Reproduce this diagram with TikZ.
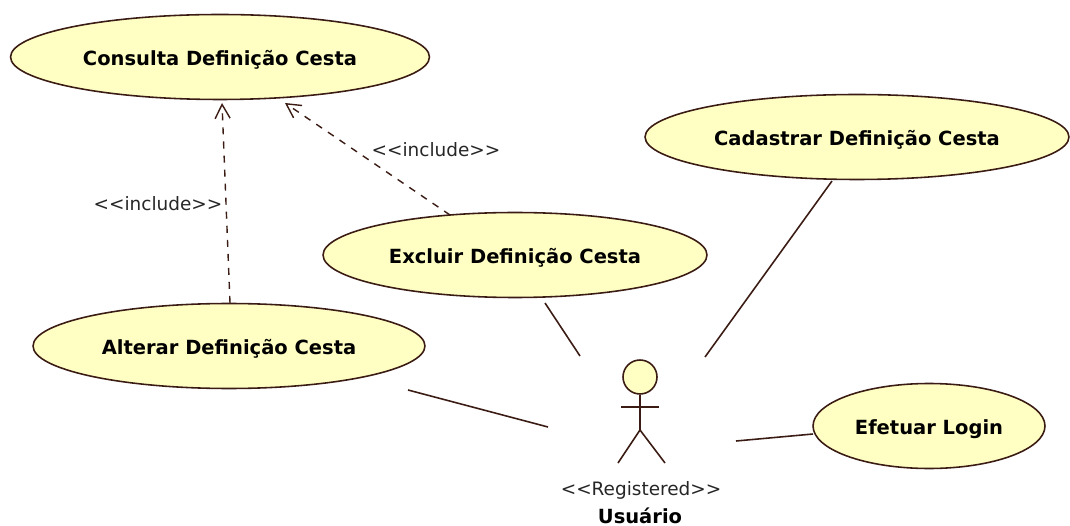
\documentclass[tikz,border=0pt]{standalone}
\usepackage{fontspec}
\setmainfont{DejaVu Sans}
\usetikzlibrary{shapes.geometric, arrows, arrows.meta}
\definecolor{umlfill}{HTML}{FFFFC4}
\definecolor{umlline}{HTML}{3A1C14}

\begin{document}
\begin{tikzpicture}[x=0.02cm, y=-0.02cm]
\tikzstyle{usecase} = [ellipse, inner sep=0pt, minimum height=1.7cm, text height=12.6pt, text depth=2.5pt, draw=umlline, line width=0.9pt, fill=umlfill, font=\fontsize{11.1}{13}\selectfont\bfseries, text=black]
\tikzstyle{assoc} = [draw=umlline, line width=0.9pt]
\tikzstyle{include} = [draw=umlline, line width=0.8pt, dash pattern=on 4pt off 4pt, -{Straight Barb[length=2.8mm, width=3mm]}]
\tikzstyle{stereo} = [inner sep=0pt, font=\fontsize{10.5}{12}\selectfont, text=black!85]

\useasboundingbox (0,0) rectangle (1070,526);

\node (consulta) [usecase, minimum width=8.38cm] at (220,57) {Consulta Definição Cesta};
\node (cadastrar) [usecase, minimum width=8.48cm] at (857,137) {Cadastrar Definição Cesta};
\node (excluir) [usecase, minimum width=7.68cm] at (515,255) {Excluir Definição Cesta};
\node (alterar) [usecase, minimum width=7.84cm] at (229,346) {Alterar Definição Cesta};
\node (login) [usecase, minimum width=4.64cm] at (929,426) {Efetuar Login};

\node (head) [circle, minimum size=0.68cm, inner sep=0pt, draw=umlline, line width=0.9pt, fill=umlfill] at (640,377) {};
\coordinate (hip) at (640,430);
\coordinate (armL) at (621,407);
\coordinate (armR) at (659,407);
\coordinate (footL) at (618,463);
\coordinate (footR) at (665,463);
\node (role) [stereo] at (641,490) {<{}<Registered>{}>};
\node (usuario) [inner sep=0pt, font=\fontsize{11.1}{13}\selectfont\bfseries, text=black] at (640,516) {Usuário};

\node (inclA) [stereo] at (158,204) {<{}<include>{}>};
\node (inclB) [stereo] at (436,150) {<{}<include>{}>};

\coordinate (topA) at (222,103);
\coordinate (topB) at (285,103);
\coordinate (fromExcl) at (450,215);
\coordinate (fromAlt) at (230,303);
\coordinate (endAlt) at (548,427);
\coordinate (startAlt) at (408,390);
\coordinate (startExcl) at (545,303);
\coordinate (endExcl) at (580,356);
\coordinate (startCad) at (832,181);
\coordinate (endCad) at (705,357);
\coordinate (startLog) at (813,434);
\coordinate (endLog) at (736,441);

\draw [include] (fromAlt) -- (topA);
\draw [include] (fromExcl) -- (topB);
\draw [assoc] (startAlt) -- (endAlt);
\draw [assoc] (startExcl) -- (endExcl);
\draw [assoc] (startCad) -- (endCad);
\draw [assoc] (startLog) -- (endLog);

\draw [assoc] (head) -- (hip);
\draw [assoc] (armL) -- (armR);
\draw [assoc] (footL) -- (hip) -- (footR);

\end{tikzpicture}
\end{document}
